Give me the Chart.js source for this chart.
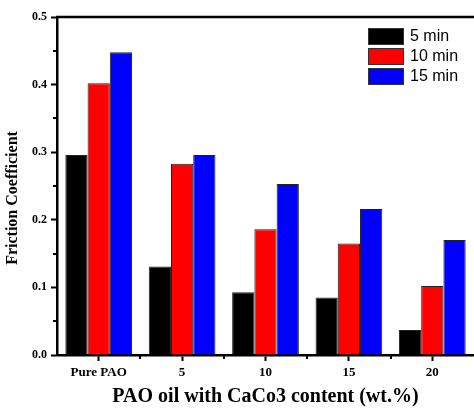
<!DOCTYPE html>
<html>
<head>
<meta charset="utf-8">
<script src="https://cdn.jsdelivr.net/npm/chart.js@4"></script>
<style>
  body { margin: 0; background: #fff; }
  canvas { display: block; }
</style>
</head>
<body>
<canvas id="chart" width="474" height="408"></canvas>
<script>
const categories = ['Pure PAO', '5', '10', '15', '20'];
const seriesLabels = ['5 min', '10 min', '15 min'];
const min5 = [0.296, 0.131, 0.093, 0.085, 0.037];
const min10 = [0.402, 0.283, 0.186, 0.165, 0.102];
const min15 = [0.448, 0.296, 0.253, 0.216, 0.170];
const seriesColors = ['#000000', '#ff0000', '#0000ff'];

const serif = 'Liberation Serif, Times New Roman, serif';

// frame on top + minor ticks + legend inside plot
const extras = {
  id: 'extras',
  afterDraw(chart) {
    const c = chart.ctx;
    const area = chart.chartArea;
    const x = chart.scales.x;
    const y = chart.scales.y;
    c.save();
    c.strokeStyle = '#000';
    c.lineWidth = 2.5;
    c.beginPath();
    c.moveTo(area.left - 1, area.top);
    c.lineTo(area.right, area.top);
    c.stroke();

    // minor ticks
    c.lineWidth = 2;
    c.beginPath();
    for (let v = 0.05; v < 0.5; v += 0.1) {
      const py = Math.round(y.getPixelForValue(v));
      c.moveTo(area.left, py);
      c.lineTo(area.left - 4, py);
    }
    for (let i = 0; i < categories.length - 1; i++) {
      const px = Math.round((x.getPixelForValue(i) + x.getPixelForValue(i + 1)) / 2);
      c.moveTo(px, area.bottom);
      c.lineTo(px, area.bottom + 4);
    }
    c.stroke();

    // legend
    const bx = area.right - 106;
    c.font = '16px Liberation Sans, Arial, sans-serif';
    c.textBaseline = 'middle';
    chart.data.datasets.forEach((ds, i) => {
      const top = area.top + 11 + i * 20;
      c.fillStyle = ds.backgroundColor;
      c.fillRect(bx, top, 36, 17);
      c.lineWidth = 1;
      c.strokeStyle = '#333';
      c.strokeRect(bx + 0.5, top + 0.5, 35, 16);
      c.fillStyle = '#000';
      c.fillText(ds.label, bx + 42, top + 9);
    });
    c.restore();
  }
};

const ctx = document.getElementById('chart').getContext('2d');
const chart = new Chart(ctx, {
  type: 'bar',
  data: {
    labels: categories,
    datasets: [min5, min10, min15].map((d, i) => ({
      label: seriesLabels[i],
      data: d,
      backgroundColor: seriesColors[i],
      borderColor: '#222',
      borderWidth: 1,
      categoryPercentage: 0.8,
      barPercentage: 1.0
    }))
  },
  options: {
    responsive: false,
    animation: false,
    layout: { padding: { top: 17, right: 0, left: 0, bottom: 0 } },
    plugins: {
      legend: { display: false },
      tooltip: { enabled: false }
    },
    scales: {
      x: {
        afterFit: (s) => { s.height = 53; },
        grid: {
          offset: false,
          drawOnChartArea: false,
          drawTicks: true,
          tickLength: 6,
          tickWidth: 2,
          tickColor: '#000'
        },
        border: { display: true, color: '#000', width: 2.5 },
        ticks: {
          color: '#000',
          padding: 4,
          maxRotation: 0,
          font: { family: serif, size: 13, weight: 'bold' }
        },
        title: {
          display: true,
          text: 'PAO oil with CaCo3 content (wt.%)',
          color: '#000',
          padding: { top: 0, bottom: 0 },
          font: { family: serif, size: 20, weight: 'bold', lineHeight: 1.1 }
        }
      },
      y: {
        min: 0,
        max: 0.5,
        afterFit: (s) => { s.width = 57; },
        grid: {
          drawOnChartArea: false,
          drawTicks: true,
          tickLength: 6,
          tickWidth: 2,
          tickColor: '#000'
        },
        border: { display: true, color: '#000', width: 2.5 },
        ticks: {
          stepSize: 0.1,
          color: '#000',
          padding: 4,
          font: { family: serif, size: 12, weight: 'bold' },
          callback: (v) => v.toFixed(1)
        },
        title: {
          display: true,
          text: 'Friction Coefficient      ',
          color: '#000',
          padding: { top: 3, bottom: 0 },
          font: { family: serif, size: 16, weight: 'bold' }
        }
      }
    }
  },
  plugins: [extras]
});
</script>
</body>
</html>
